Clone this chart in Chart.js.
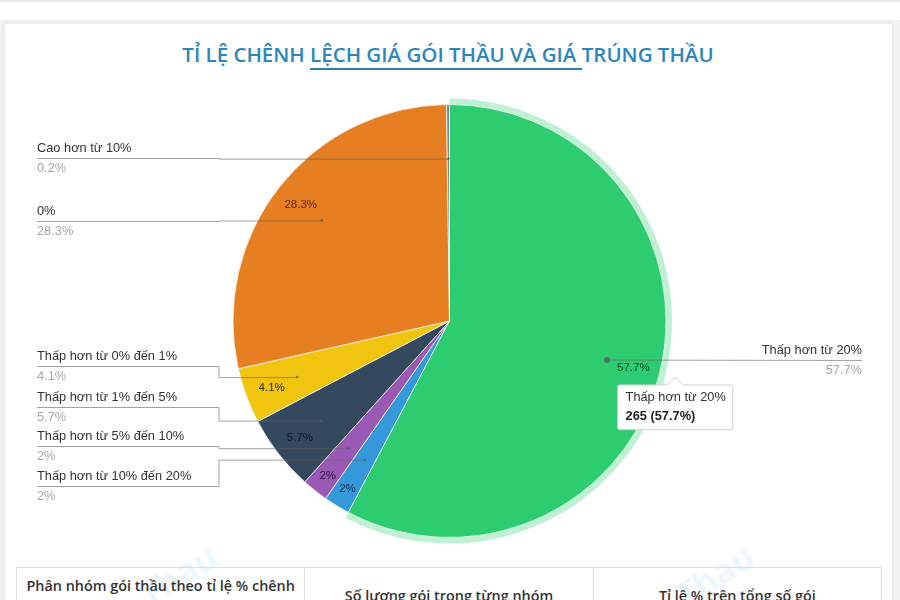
<!DOCTYPE html>
<html lang="vi">
<head>
    <meta charset="UTF-8">
    <title>Tỉ lệ chênh lệch giá gói thầu và giá trúng thầu</title>
    <script src="https://cdn.jsdelivr.net/npm/chart.js@4.4.0/dist/chart.umd.min.js"></script>
    <style>
        html, body { margin: 0; height: 100%; overflow: hidden; background: #f2f2f2; }
        .topbar { position: absolute; left: 0; right: 0; top: 0; height: 20px; background: #fff; border-top: 2px solid #e8e8e8; box-sizing: border-box; }
        .card { position: absolute; left: 5px; top: 24px; width: 887px; height: 600px; background: #fff; box-shadow: 0 0 5px rgba(0,0,0,0.08); }
        canvas { position: absolute; left: 0; top: 0; }
        h2 {
            position: absolute; left: 0; top: 41px; width: 896px; margin: 0; text-align: center;
            font: 600 20.5px 'Open Sans', sans-serif; color: #2b86b9; line-height: 26px;
        }
        h2 span { border-bottom: 2px solid #2b7ea8; }
        table {
            position: absolute; left: 16px; top: 567px; width: 866px; height: 58px; border-collapse: collapse;
            table-layout: fixed; font: 600 14.4px/20px 'Open Sans', sans-serif; color: #333; text-align: center;
        }
        td { border: 1px solid #ddd; padding: 8px 6px; vertical-align: middle; }
        .mark { position: absolute; top: 552px; font: 700 34px 'Open Sans', sans-serif; color: rgba(70,160,230,0.11); transform: rotate(-32deg); }
    </style>
</head>
<body>
    <div class="topbar"></div>
    <div class="card"></div>
    <h2>TỈ LỆ CHÊNH <span>LỆCH GIÁ GÓI THẦU VÀ GIÁ </span>TRÚNG THẦU</h2>
    <div class="mark" style="left:135px">Thau</div>
    <div class="mark" style="left:672px">Thau</div>
    <table>
        <tr>
            <td>Phân nhóm gói thầu theo tỉ lệ % chênh lệch</td>
            <td>Số lượng gói trong từng nhóm</td>
            <td>Tỉ lệ % trên tổng số gói</td>
        </tr>
    </table>
    <canvas id="pieChart" width="900" height="600"></canvas>

    <script>
        const categories = ['Thấp hơn từ 20%', 'Thấp hơn từ 10% đến 20%', 'Thấp hơn từ 5% đến 10%', 'Thấp hơn từ 1% đến 5%', 'Thấp hơn từ 0% đến 1%', '0%', 'Cao hơn từ 10%'];
        const counts = [265, 9, 9, 26, 19, 130, 1];
        const percentLabels = ['57.7%', '2%', '2%', '5.7%', '4.1%', '28.3%', '0.2%'];

        const sliceColors = ['#2ecc71', '#3498db', '#9b59b6', '#34495e', '#f1c40f', '#e67e22', '#7f8c8d'];
        const innerLabelColors = ['#0f4d2a', '#0d2f4d', '#33124a', '#10171f', '#2b2300', '#5a2a05', '#333'];

        // y of the rule under each outer label, same order as categories
        const ruleY = [360, 486, 446, 407, 366, 221, 158];
        const elbowX = 219;
        const leftX = 37;
        const rightX = 862;

        function midPoint(arc, r) {
            const a = (arc.startAngle + arc.endAngle) / 2;
            return { x: arc.x + Math.cos(a) * r, y: arc.y + Math.sin(a) * r };
        }

        Chart.Tooltip.positioners.calloutTip = function (items) {
            const arc = items[0].element;
            return midPoint(arc, arc.outerRadius + 16);
        };

        // light ring round the hovered slice
        const haloPlugin = {
            id: 'halo',
            beforeDatasetsDraw(chart) {
                const arc = chart.getDatasetMeta(0).data[0];
                const ctx = chart.ctx;
                ctx.save();
                ctx.beginPath();
                ctx.arc(arc.x, arc.y, arc.outerRadius + 6, arc.startAngle, arc.endAngle);
                ctx.lineTo(arc.x, arc.y);
                ctx.closePath();
                ctx.fillStyle = 'rgba(46, 204, 113, 0.3)';
                ctx.fill();
                ctx.restore();
            }
        };

        const calloutPlugin = {
            id: 'callouts',
            afterDatasetsDraw(chart) {
                const ctx = chart.ctx;
                chart.getDatasetMeta(0).data.forEach((arc, i) => {
                    const dot = midPoint(arc, arc.outerRadius * 0.75);
                    // narrow slices sit their label a bit further out
                    const narrow = arc.endAngle - arc.startAngle < 0.2;
                    const lab = midPoint(arc, arc.outerRadius * (narrow ? 0.905 : 0.875));
                    const y = ruleY[i];
                    const isRight = i === 0;

                    ctx.save();
                    ctx.strokeStyle = 'rgba(100, 100, 100, 0.6)';
                    ctx.lineWidth = 1;
                    ctx.beginPath();
                    if (isRight) {
                        ctx.moveTo(rightX, y + 0.5);
                        ctx.lineTo(dot.x, dot.y);
                    } else {
                        ctx.moveTo(leftX, y + 0.5);
                        ctx.lineTo(elbowX, y + 0.5);
                        ctx.lineTo(elbowX, dot.y + 0.5);
                        ctx.lineTo(dot.x, dot.y + 0.5);
                    }
                    ctx.stroke();
                    ctx.fillStyle = 'rgba(90, 90, 90, 0.8)';
                    ctx.beginPath();
                    ctx.arc(dot.x, dot.y, isRight ? 3 : 1.2, 0, Math.PI * 2);
                    ctx.fill();

                    // outer text
                    ctx.font = "12.8px 'Liberation Sans', Arial, sans-serif";
                    ctx.textBaseline = 'middle';
                    ctx.textAlign = isRight ? 'right' : 'left';
                    const tx = isRight ? rightX : leftX;
                    ctx.fillStyle = '#333';
                    ctx.fillText(categories[i], tx, y - 10);
                    ctx.fillStyle = '#a6a6a6';
                    ctx.fillText(percentLabels[i], tx, y + 10);

                    // inner text, the tiny last slice has none
                    if (i < 6) {
                        ctx.font = "11.5px 'Liberation Sans', Arial, sans-serif";
                        ctx.textAlign = 'center';
                        ctx.fillStyle = innerLabelColors[i];
                        ctx.fillText(percentLabels[i], lab.x, lab.y + 1);
                    }
                    ctx.restore();
                });
            }
        };

        const chart = new Chart(document.getElementById('pieChart').getContext('2d'), {
            type: 'pie',
            data: {
                labels: categories,
                datasets: [{
                    data: counts,
                    backgroundColor: sliceColors,
                    hoverBackgroundColor: sliceColors,
                    borderColor: 'rgba(255, 255, 255, 0.7)',
                    hoverBorderColor: 'rgba(255, 255, 255, 0.7)',
                    borderWidth: 1,
                    hoverBorderWidth: 1,
                    hoverOffset: 0,
                    radius: 216.5
                }]
            },
            options: {
                responsive: false,
                animation: false,
                events: [],
                layout: { padding: { left: 0, right: 1, top: 42, bottom: 0 } },
                plugins: {
                    legend: { display: false },
                    tooltip: {
                        position: 'calloutTip',
                        xAlign: 'center',
                        yAlign: 'top',
                        backgroundColor: '#fff',
                        borderColor: '#d0d0d0',
                        borderWidth: 1,
                        cornerRadius: 2,
                        caretSize: 8,
                        caretPadding: 0,
                        padding: { left: 8, right: 7, top: 5, bottom: 6 },
                        displayColors: false,
                        titleColor: '#333',
                        bodyColor: '#222',
                        titleFont: { family: "'Liberation Sans', Arial, sans-serif", size: 12.8, weight: 'normal' },
                        bodyFont: { family: "'Liberation Sans', Arial, sans-serif", size: 12.8, weight: 'bold' },
                        titleMarginBottom: 3,
                        callbacks: {
                            label: item => counts[item.dataIndex] + ' (' + percentLabels[item.dataIndex] + ')'
                        }
                    }
                }
            },
            plugins: [haloPlugin, calloutPlugin]
        });

        const active = [{ datasetIndex: 0, index: 0 }];
        chart.setActiveElements(active);
        chart.tooltip.setActiveElements(active, { x: 0, y: 0 });
        chart.update();
    </script>
</body>
</html>
